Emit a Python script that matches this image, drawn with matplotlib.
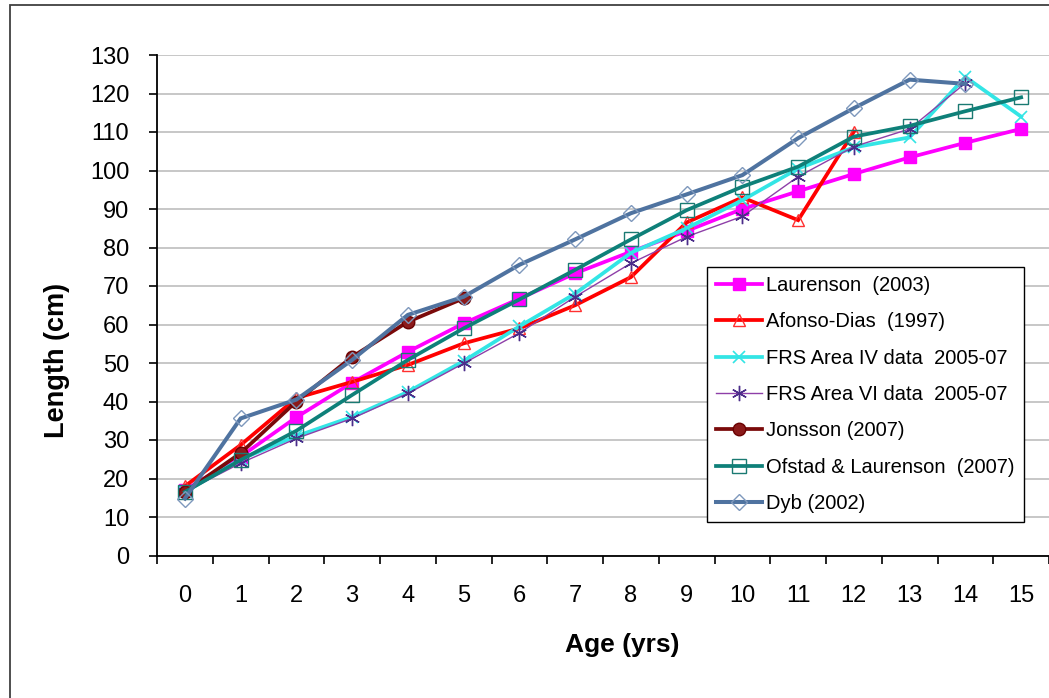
import matplotlib
matplotlib.use("Agg")
import matplotlib.pyplot as plt
from matplotlib.patches import Rectangle
import numpy as np

plt.rcParams['font.family'] = ['Liberation Sans', 'DejaVu Sans']

ages = list(range(16))
age_labels = [str(a) for a in ages]

laurenson = [17.0, 25.7, 35.9, 44.9, 52.9, 60.3, 66.7, 73.3, 78.9, 84.3, 90.0, 94.6, 99.1, 103.4, 107.2, 110.8]
afonso_dias = [18.0, 28.7, 40.9, 45.1, 49.5, 55.1, 59.0, 65.0, 72.3, 86.5, 93.0, 87.1, 110.1]
frs_iv = [16.5, 25.0, 31.0, 36.0, 42.5, 50.5, 59.5, 68.0, 78.6, 85.0, 92.3, 100.5, 106.0, 108.6, 124.3, 114.0]
frs_vi = [16.5, 24.0, 30.4, 35.6, 42.1, 49.9, 57.8, 67.2, 75.9, 82.8, 88.1, 98.4, 106.2, 110.8, 122.7]
jonsson = [16.5, 26.6, 40.0, 51.6, 60.7, 66.8]
ofstad = [16.5, 24.8, 32.4, 41.7, 50.8, 59.0, 66.5, 74.2, 82.1, 89.7, 95.8, 101.0, 108.8, 111.6, 115.4, 119.0]
dyb = [14.8, 35.6, 40.5, 50.8, 62.5, 67.2, 75.5, 82.1, 88.9, 93.8, 98.8, 108.4, 116.2, 123.6, 122.5]

fig = plt.figure(figsize=(10.49, 6.98), dpi=100)
fig.patch.set_facecolor('white')

# outer chart border
fig.patches.append(Rectangle((10 / 1049, -0.05), 1.2, 1 - 5 / 698 + 0.05,
                             transform=fig.transFigure, fill=False,
                             edgecolor='#404040', linewidth=1.3, zorder=0))

ax = fig.add_axes([157 / 1049, 1 - 555.5 / 698, 892 / 1049, 500.5 / 698])

series = [
    (laurenson, "Laurenson  (2003)", dict(color='#FF00FF', lw=2.7, marker='s', ms=9,
                                          mfc='#FF00FF', mec='#FF00FF')),
    (afonso_dias, "Afonso-Dias  (1997)", dict(color='#FF0000', lw=2.7, marker='^', ms=9,
                                              mfc='none', mec='#FF3030', mew=1.0)),
    (frs_iv, "FRS Area IV data  2005-07", dict(color='#33E5E5', lw=2.7, marker='x', ms=9,
                                                mec='#33E5E5', mew=1.2)),
    (frs_vi, "FRS Area VI data  2005-07", dict(color='#8E3FA8', lw=1.0, marker=(6, 2, 0), ms=11,
                                                mec='#4B2D8A', mew=1.0)),
    (jonsson, "Jonsson (2007)", dict(color='#7A0A0A', lw=2.7, marker='o', ms=9,
                                     mfc='#8B1A1A', mec='#6A0000')),
    (ofstad, "Ofstad & Laurenson  (2007)", dict(color='#0E8079', lw=2.7, marker='s', ms=10,
                                                 mfc='none', mec='#1A7A72', mew=1.0)),
    (dyb, "Dyb (2002)", dict(color='#4F73A0', lw=2.9, marker='D', ms=8.5,
                             mfc='none', mec='#7E98BC', mew=1.0)),
]

for vals, label, style in series:
    ax.plot(ages[:len(vals)], vals, label=label, solid_joinstyle='miter', **style)

ax.set_xlim(-0.5, 15.5)
ax.set_ylim(0, 130)
ax.set_yticks(np.arange(0, 131, 10))
ax.set_xticks(ages)
ax.set_xticklabels(age_labels)
ax.set_xticks(np.arange(-0.5, 15.6, 1), minor=True)

ax.yaxis.grid(True, color='#BEBEBE', linewidth=1.2)
ax.set_axisbelow(True)

for side in ('top', 'right'):
    ax.spines[side].set_visible(False)
for side in ('left', 'bottom'):
    ax.spines[side].set_color('black')
    ax.spines[side].set_linewidth(1.3)

ax.tick_params(axis='y', direction='out', length=6, width=1.2, pad=14, labelsize=17, colors='black')
ax.tick_params(axis='x', which='major', length=0, pad=21, labelsize=17)
ax.tick_params(axis='x', which='minor', direction='out', length=6, width=1.2)

fig.text(622 / 1049, 1 - 645 / 698, "Age (yrs)", ha='center', va='center',
         fontsize=19, fontweight='bold')
fig.text(57 / 1049, 1 - 360 / 698, "Length (cm)", ha='center', va='center',
         rotation=90, fontsize=19.5, fontweight='bold')

leg = ax.legend(loc='upper left', bbox_to_anchor=(707 / 1049, 1 - 267 / 698),
                bbox_transform=fig.transFigure, fontsize=14.5, frameon=True,
                fancybox=False, edgecolor='black', framealpha=1,
                handlelength=2.3, handletextpad=0.2, labelspacing=0.86,
                borderpad=0.45, borderaxespad=0)
leg.get_frame().set_linewidth(1.0)

fig.savefig("out.png", dpi=100)
